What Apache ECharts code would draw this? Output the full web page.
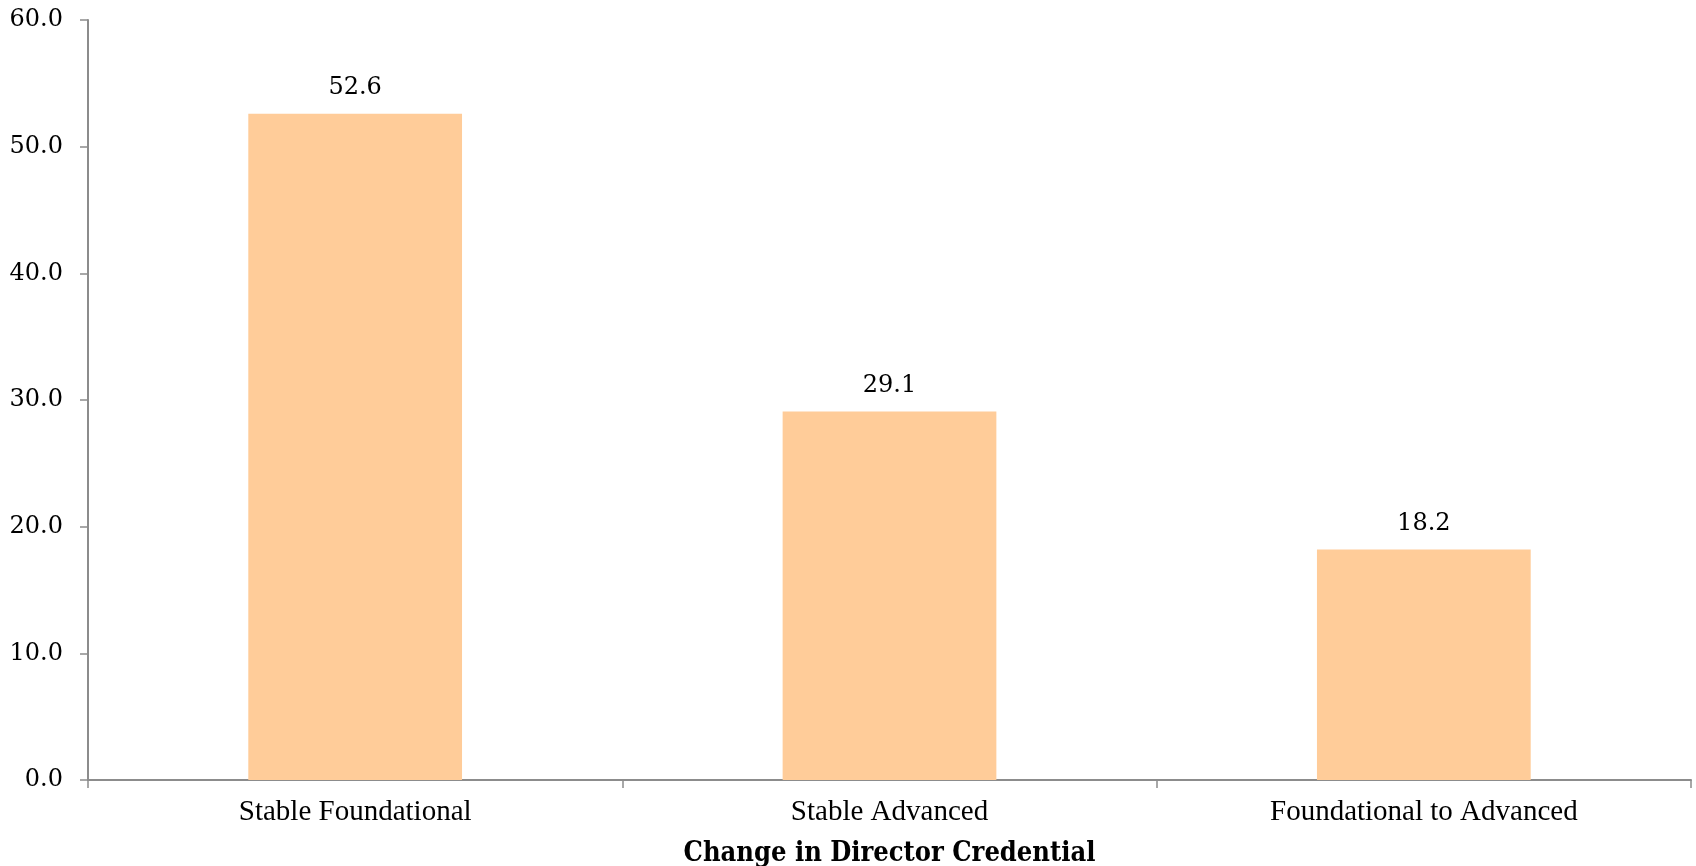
<!DOCTYPE html>
<html>
<head>
<meta charset="utf-8">
<script src="https://cdn.jsdelivr.net/npm/echarts@6/dist/echarts.min.js"></script>
<style>
  html, body { margin: 0; padding: 0; background: #ffffff; }
  #chart { width: 1696px; height: 866px; }
</style>
</head>
<body>
<div id="chart"></div>
<script>
// Share of programs by change in director credential
const categories = ['Stable Foundational', 'Stable Advanced', 'Foundational to Advanced'];
const shares = [52.6, 29.1, 18.2];
const yTicks = { min: 0, max: 60, interval: 10 };

const axisColor = '#8c8c8c';
const chart = echarts.init(document.getElementById('chart'), null, { renderer: 'canvas' });

chart.setOption({
  animation: false,
  backgroundColor: '#ffffff',
  grid: { left: 88, right: 5, top: 20, bottom: 86, containLabel: false, outerBoundsMode: 'none' },
  xAxis: {
    type: 'category',
    data: categories,
    name: 'Change in Director Credential',
    nameLocation: 'middle',
    nameGap: 60,
    nameTextStyle: {
      fontFamily: "'DejaVu Serif Condensed', 'DejaVu Serif'",
      fontWeight: 'bold',
      fontSize: 27,
      color: '#000'
    },
    axisLine: { lineStyle: { color: axisColor, width: 2 } },
    axisTick: { show: true, length: 8, lineStyle: { color: axisColor, width: 1.5 } },
    axisLabel: { margin: 18, fontFamily: 'Liberation Serif', fontSize: 29, color: '#000' }
  },
  yAxis: {
    type: 'value',
    min: yTicks.min,
    max: yTicks.max,
    interval: yTicks.interval,
    splitLine: { show: false },
    axisLine: { show: true, lineStyle: { color: axisColor, width: 2 } },
    axisTick: { show: true, length: 8, lineStyle: { color: axisColor, width: 1.5 } },
    axisLabel: {
      margin: 25,
      fontFamily: 'DejaVu Serif',
      fontSize: 24,
      color: '#000',
      formatter: v => v.toFixed(1)
    }
  },
  series: [{
    type: 'bar',
    data: shares,
    barCategoryGap: '60%',
    itemStyle: { color: '#ffcc99' },
    label: {
      show: true,
      position: 'top',
      distance: 14,
      fontFamily: 'DejaVu Serif',
      fontSize: 24,
      color: '#000',
      formatter: p => p.value.toFixed(1)
    }
  }]
});
</script>
</body>
</html>
